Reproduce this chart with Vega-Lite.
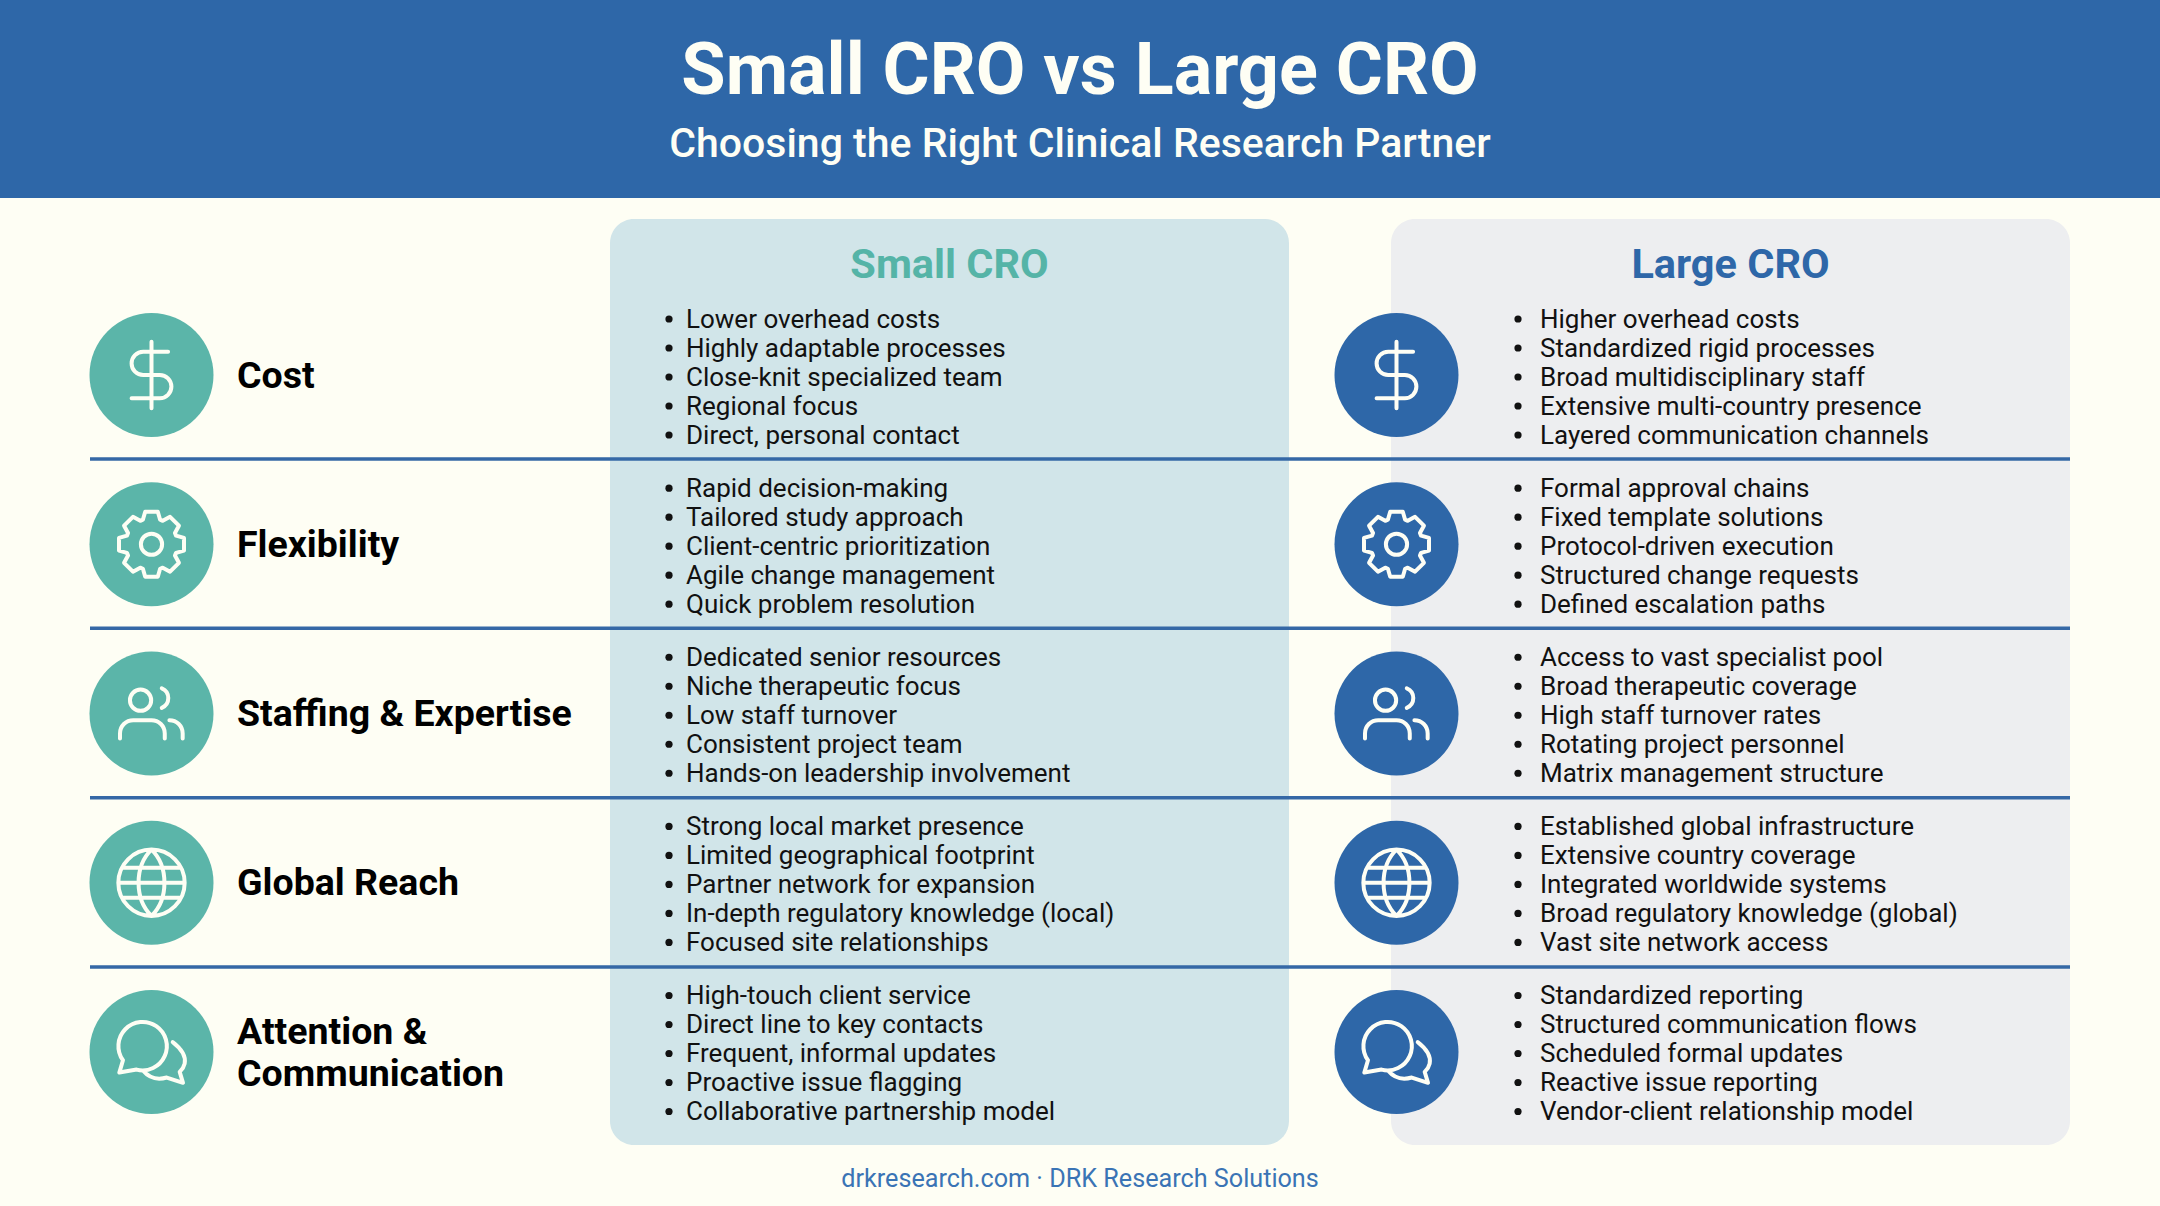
{
  "$schema": "https://vega.github.io/schema/vega-lite/v6.json",
  "width": 2160,
  "height": 1206,
  "autosize": {"type": "fit", "contains": "padding"},
  "padding": 0,
  "background": "#fefef4",
  "config": {
    "view": {"stroke": null},
    "axis": {"disable": true},
    "legend": {"disable": true},
    "text": {"font": "Roboto"}
  },
  "datasets": {
    "bullets": [
      {"category": "Cost", "panel": "Small CRO", "item": 0, "text": "Lower overhead costs"},
      {"category": "Cost", "panel": "Small CRO", "item": 1, "text": "Highly adaptable processes"},
      {"category": "Cost", "panel": "Small CRO", "item": 2, "text": "Close-knit specialized team"},
      {"category": "Cost", "panel": "Small CRO", "item": 3, "text": "Regional focus"},
      {"category": "Cost", "panel": "Small CRO", "item": 4, "text": "Direct, personal contact"},
      {"category": "Cost", "panel": "Large CRO", "item": 0, "text": "Higher overhead costs"},
      {"category": "Cost", "panel": "Large CRO", "item": 1, "text": "Standardized rigid processes"},
      {"category": "Cost", "panel": "Large CRO", "item": 2, "text": "Broad multidisciplinary staff"},
      {"category": "Cost", "panel": "Large CRO", "item": 3, "text": "Extensive multi-country presence"},
      {"category": "Cost", "panel": "Large CRO", "item": 4, "text": "Layered communication channels"},
      {"category": "Flexibility", "panel": "Small CRO", "item": 0, "text": "Rapid decision-making"},
      {"category": "Flexibility", "panel": "Small CRO", "item": 1, "text": "Tailored study approach"},
      {"category": "Flexibility", "panel": "Small CRO", "item": 2, "text": "Client-centric prioritization"},
      {"category": "Flexibility", "panel": "Small CRO", "item": 3, "text": "Agile change management"},
      {"category": "Flexibility", "panel": "Small CRO", "item": 4, "text": "Quick problem resolution"},
      {"category": "Flexibility", "panel": "Large CRO", "item": 0, "text": "Formal approval chains"},
      {"category": "Flexibility", "panel": "Large CRO", "item": 1, "text": "Fixed template solutions"},
      {"category": "Flexibility", "panel": "Large CRO", "item": 2, "text": "Protocol-driven execution"},
      {"category": "Flexibility", "panel": "Large CRO", "item": 3, "text": "Structured change requests"},
      {"category": "Flexibility", "panel": "Large CRO", "item": 4, "text": "Defined escalation paths"},
      {"category": "Staffing & Expertise", "panel": "Small CRO", "item": 0, "text": "Dedicated senior resources"},
      {"category": "Staffing & Expertise", "panel": "Small CRO", "item": 1, "text": "Niche therapeutic focus"},
      {"category": "Staffing & Expertise", "panel": "Small CRO", "item": 2, "text": "Low staff turnover"},
      {"category": "Staffing & Expertise", "panel": "Small CRO", "item": 3, "text": "Consistent project team"},
      {"category": "Staffing & Expertise", "panel": "Small CRO", "item": 4, "text": "Hands-on leadership involvement"},
      {"category": "Staffing & Expertise", "panel": "Large CRO", "item": 0, "text": "Access to vast specialist pool"},
      {"category": "Staffing & Expertise", "panel": "Large CRO", "item": 1, "text": "Broad therapeutic coverage"},
      {"category": "Staffing & Expertise", "panel": "Large CRO", "item": 2, "text": "High staff turnover rates"},
      {"category": "Staffing & Expertise", "panel": "Large CRO", "item": 3, "text": "Rotating project personnel"},
      {"category": "Staffing & Expertise", "panel": "Large CRO", "item": 4, "text": "Matrix management structure"},
      {"category": "Global Reach", "panel": "Small CRO", "item": 0, "text": "Strong local market presence"},
      {"category": "Global Reach", "panel": "Small CRO", "item": 1, "text": "Limited geographical footprint"},
      {"category": "Global Reach", "panel": "Small CRO", "item": 2, "text": "Partner network for expansion"},
      {"category": "Global Reach", "panel": "Small CRO", "item": 3, "text": "In-depth regulatory knowledge (local)"},
      {"category": "Global Reach", "panel": "Small CRO", "item": 4, "text": "Focused site relationships"},
      {"category": "Global Reach", "panel": "Large CRO", "item": 0, "text": "Established global infrastructure"},
      {"category": "Global Reach", "panel": "Large CRO", "item": 1, "text": "Extensive country coverage"},
      {"category": "Global Reach", "panel": "Large CRO", "item": 2, "text": "Integrated worldwide systems"},
      {"category": "Global Reach", "panel": "Large CRO", "item": 3, "text": "Broad regulatory knowledge (global)"},
      {"category": "Global Reach", "panel": "Large CRO", "item": 4, "text": "Vast site network access"},
      {"category": "Attention & Communication", "panel": "Small CRO", "item": 0, "text": "High-touch client service"},
      {"category": "Attention & Communication", "panel": "Small CRO", "item": 1, "text": "Direct line to key contacts"},
      {"category": "Attention & Communication", "panel": "Small CRO", "item": 2, "text": "Frequent, informal updates"},
      {"category": "Attention & Communication", "panel": "Small CRO", "item": 3, "text": "Proactive issue flagging"},
      {"category": "Attention & Communication", "panel": "Small CRO", "item": 4, "text": "Collaborative partnership model"},
      {"category": "Attention & Communication", "panel": "Large CRO", "item": 0, "text": "Standardized reporting"},
      {"category": "Attention & Communication", "panel": "Large CRO", "item": 1, "text": "Structured communication flows"},
      {"category": "Attention & Communication", "panel": "Large CRO", "item": 2, "text": "Scheduled formal updates"},
      {"category": "Attention & Communication", "panel": "Large CRO", "item": 3, "text": "Reactive issue reporting"},
      {"category": "Attention & Communication", "panel": "Large CRO", "item": 4, "text": "Vendor-client relationship model"}
    ],
    "panels": [{"panel": "Small CRO"}, {"panel": "Large CRO"}]
  },
  "resolve": {"scale": {"x": "independent", "y": "independent", "color": "independent", "shape": "independent"}},
  "layer": [
    {
      "data": {"values": [{"block": "header"}]},
      "mark": {"type": "rect", "color": "#2e67a8"},
      "encoding": {
        "x": {"datum": 0, "type": "quantitative", "scale": {"domain": [0, 1], "range": [0, 2160]}},
        "x2": {"datum": 1},
        "y": {"datum": 0, "type": "quantitative", "scale": {"domain": [0, 1], "range": [0, 198]}},
        "y2": {"datum": 1}
      }
    },
    {
      "data": {"values": [{"text": "Small CRO vs Large CRO"}]},
      "mark": {"type": "text", "fontSize": 72, "fontWeight": "bold", "color": "#fefef4", "baseline": "middle"},
      "encoding": {
        "x": {"field": "text", "type": "nominal", "scale": {"type": "point", "padding": 0, "range": [1080, 1080]}},
        "y": {"field": "text", "type": "nominal", "scale": {"type": "point", "padding": 0, "range": [72, 72]}},
        "text": {"field": "text"}
      }
    },
    {
      "data": {"values": [{"text": "Choosing the Right Clinical Research Partner"}]},
      "mark": {"type": "text", "fontSize": 41, "fontWeight": 500, "color": "#fefef4", "baseline": "middle"},
      "encoding": {
        "x": {"field": "text", "type": "nominal", "scale": {"type": "point", "padding": 0, "range": [1080, 1080]}},
        "y": {"field": "text", "type": "nominal", "scale": {"type": "point", "padding": 0, "range": [145, 145]}},
        "text": {"field": "text"}
      }
    },
    {
      "data": {"name": "panels"},
      "mark": {"type": "rect", "width": 679, "cornerRadius": 24},
      "encoding": {
        "x": {"field": "panel", "type": "nominal", "scale": {"type": "point", "padding": 0, "domain": ["Small CRO", "Large CRO"], "range": [949.5, 1730.5]}},
        "y": {"datum": 0, "type": "quantitative", "scale": {"domain": [0, 1], "range": [219, 1145]}},
        "y2": {"datum": 1},
        "color": {"field": "panel", "type": "nominal", "scale": {"domain": ["Small CRO", "Large CRO"], "range": ["#d1e5e9", "#edeef0"]}}
      }
    },
    {
      "data": {"name": "panels"},
      "mark": {"type": "text", "fontSize": 41.5, "fontWeight": "bold", "baseline": "middle"},
      "encoding": {
        "x": {"field": "panel", "type": "nominal", "scale": {"type": "point", "padding": 0, "domain": ["Small CRO", "Large CRO"], "range": [949.5, 1730.5]}},
        "y": {"field": "panel", "type": "nominal", "scale": {"type": "point", "padding": 0, "range": [266, 266]}},
        "text": {"field": "panel"},
        "color": {"field": "panel", "type": "nominal", "scale": {"domain": ["Small CRO", "Large CRO"], "range": ["#55b4a7", "#2e67a8"]}}
      }
    },
    {
      "data": {"values": [{"after": "Cost"}, {"after": "Flexibility"}, {"after": "Staffing & Expertise"}, {"after": "Global Reach"}]},
      "mark": {"type": "rule", "color": "#3568a6", "strokeWidth": 3.5},
      "encoding": {
        "x": {"datum": 0, "type": "quantitative", "scale": {"domain": [0, 1], "range": [90, 2070]}},
        "x2": {"datum": 1},
        "y": {"field": "after", "type": "nominal", "sort": null, "scale": {"type": "point", "padding": 0, "range": [459, 967]}}
      }
    },
    {
      "data": {"name": "bullets"},
      "transform": [{"filter": "datum.item == 0"}],
      "mark": {"type": "point", "shape": "circle", "filled": true, "size": 15376, "opacity": 1},
      "encoding": {
        "x": {"field": "panel", "type": "nominal", "scale": {"type": "point", "padding": 0, "domain": ["Small CRO", "Large CRO"], "range": [151.5, 1396.5]}},
        "y": {"field": "category", "type": "nominal", "sort": null, "scale": {"type": "point", "padding": 0, "range": [375, 1052]}},
        "color": {"field": "panel", "type": "nominal", "scale": {"domain": ["Small CRO", "Large CRO"], "range": ["#5bb5a9", "#2e67a8"]}}
      }
    },
    {
      "data": {"name": "bullets"},
      "transform": [{"filter": "datum.item == 0"}],
      "mark": {"type": "point", "filled": false, "size": 44, "opacity": 1, "stroke": "#fefef4", "strokeWidth": 4, "strokeCap": "round", "strokeJoin": "round"},
      "encoding": {
        "x": {"field": "panel", "type": "nominal", "scale": {"type": "point", "padding": 0, "domain": ["Small CRO", "Large CRO"], "range": [151.5, 1396.5]}},
        "y": {"field": "category", "type": "nominal", "sort": null, "scale": {"type": "point", "padding": 0, "range": [375, 1052]}},
        "shape": {
          "field": "category",
          "type": "nominal",
          "scale": {
            "domain": ["Cost", "Flexibility", "Staffing & Expertise", "Global Reach", "Attention & Communication"],
            "range": [
              "M0 -10 V10 M5 -7 H-2.5 a3.5 3.5 0 0 0 0 7 h5 a3.5 3.5 0 0 1 0 7 H-6",
              "M-2.6 -7.4 L-1.9 -9.8 L1.9 -9.8 L2.6 -7.4 L3.39 -7.07 L5.59 -8.27 L8.27 -5.59 L7.07 -3.39 L7.4 -2.6 L9.8 -1.9 L9.8 1.9 L7.4 2.6 L7.07 3.39 L8.27 5.59 L5.59 8.27 L3.39 7.07 L2.6 7.4 L1.9 9.8 L-1.9 9.8 L-2.6 7.4 L-3.39 7.07 L-5.59 8.27 L-8.27 5.59 L-7.07 3.39 L-7.4 2.6 L-9.8 1.9 L-9.8 -1.9 L-7.4 -2.6 L-7.07 -3.39 L-8.27 -5.59 L-5.59 -8.27 L-3.39 -7.07 Z M3.2 0 a3.2 3.2 0 1 0 -6.4 0 a3.2 3.2 0 1 0 6.4 0 z",
              "M-0.1 -4 a3.2 3.2 0 1 0 -6.4 0 a3.2 3.2 0 1 0 6.4 0 z M-9.5 7.5 V6 a4 4 0 0 1 4 -4 H0 a4 4 0 0 1 4 4 V7.5 M3.1 -7.6 a3.2 3.2 0 0 1 0 5.9 M5.4 2 a4 4 0 0 1 4 4 v1.5",
              "M10 0 a10 10 0 1 0 -20 0 a10 10 0 1 0 20 0 z M0 -10 C-5.2 -5 -5.2 5 0 10 C5.2 5 5.2 -5 0 -10 z M-8.9 -4.5 H8.9 M-10 0 H10 M-8.9 4.5 H8.9",
              "M-8.6 2.5 A7.3 7.3 0 1 1 -4.5 5.3 L-9.7 6.2 Z M6.4 -3 C9 -1 10.5 1 10 3.5 C9.8 4.5 9 5.5 8.5 6 L9.5 9.3 L4.6 7.7 C1.5 8.6 -1 7.5 -2.6 5.6"
            ]
          }
        }
      }
    },
    {
      "data": {"values": [{"label": "Cost"}, {"label": "Flexibility"}, {"label": "Staffing & Expertise"}, {"label": "Global Reach"}]},
      "mark": {"type": "text", "align": "left", "baseline": "middle", "fontSize": 37.5, "fontWeight": "bold", "color": "#000000"},
      "encoding": {
        "x": {"datum": "labels", "type": "nominal", "scale": {"type": "point", "padding": 0, "range": [237, 237]}},
        "y": {"field": "label", "type": "nominal", "sort": null, "scale": {"type": "point", "padding": 0, "range": [377, 884]}},
        "text": {"field": "label"}
      }
    },
    {
      "data": {"values": [{"label": "Attention &"}, {"label": "Communication"}]},
      "mark": {"type": "text", "align": "left", "baseline": "middle", "fontSize": 37.5, "fontWeight": "bold", "color": "#000000"},
      "encoding": {
        "x": {"datum": "labels", "type": "nominal", "scale": {"type": "point", "padding": 0, "range": [237, 237]}},
        "y": {"field": "label", "type": "nominal", "sort": null, "scale": {"type": "point", "padding": 0, "range": [1033, 1075]}},
        "text": {"field": "label"}
      }
    },
    {
      "data": {"name": "bullets"},
      "mark": {"type": "point", "shape": "circle", "filled": true, "size": 52, "opacity": 1, "color": "#111111"},
      "encoding": {
        "x": {"field": "panel", "type": "nominal", "scale": {"type": "point", "padding": 0, "domain": ["Small CRO", "Large CRO"], "range": [669, 1518]}},
        "y": {"field": "category", "type": "nominal", "sort": null, "scale": {"type": "point", "padding": 0, "range": [377, 1053.5]}},
        "yOffset": {"field": "item", "type": "ordinal", "scale": {"type": "point", "padding": 0, "range": [-58, 58]}}
      }
    },
    {
      "data": {"name": "bullets"},
      "mark": {"type": "text", "align": "left", "baseline": "middle", "fontSize": 26, "color": "#111111"},
      "encoding": {
        "x": {"field": "panel", "type": "nominal", "scale": {"type": "point", "padding": 0, "domain": ["Small CRO", "Large CRO"], "range": [686, 1540]}},
        "y": {"field": "category", "type": "nominal", "sort": null, "scale": {"type": "point", "padding": 0, "range": [377.5, 1054]}},
        "yOffset": {"field": "item", "type": "ordinal", "scale": {"type": "point", "padding": 0, "range": [-58, 58]}},
        "text": {"field": "text"}
      }
    },
    {
      "data": {"values": [{"text": "drkresearch.com · DRK Research Solutions"}]},
      "mark": {"type": "text", "fontSize": 25.2, "color": "#3a74b5", "baseline": "middle"},
      "encoding": {
        "x": {"field": "text", "type": "nominal", "scale": {"type": "point", "padding": 0, "range": [1080, 1080]}},
        "y": {"field": "text", "type": "nominal", "scale": {"type": "point", "padding": 0, "range": [1179, 1179]}},
        "text": {"field": "text"}
      }
    }
  ]
}
